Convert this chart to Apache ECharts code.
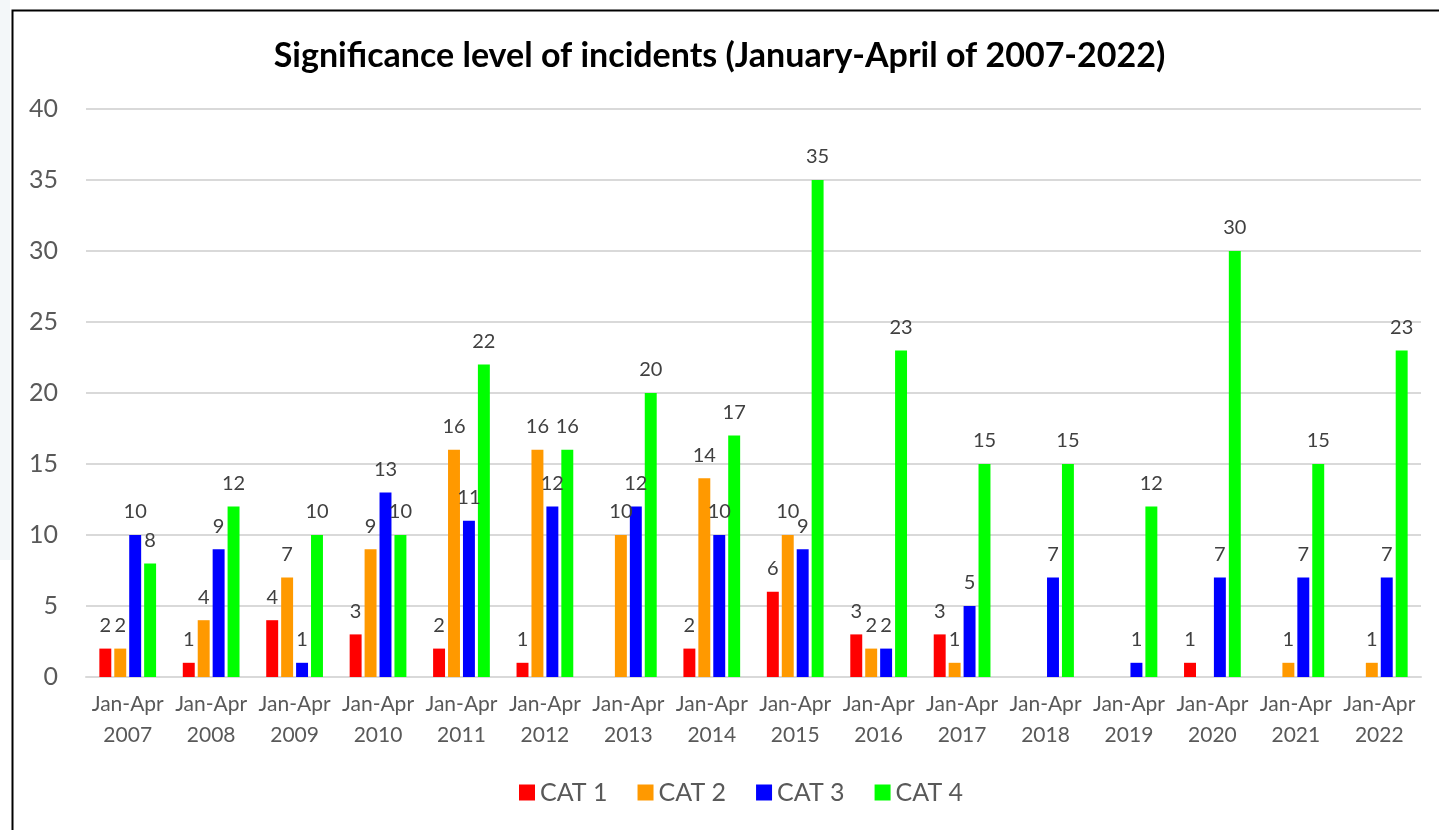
<!DOCTYPE html>
<html>
<head>
<meta charset="utf-8">
<script src="https://cdn.jsdelivr.net/npm/echarts@6/dist/echarts.min.js"></script>
<style>
  html, body { margin: 0; padding: 0; background: #fff; }
  #chart { width: 1439px; height: 830px; }
</style>
</head>
<body>
<div id="chart"></div>
<script>
const years = ['2007', '2008', '2009', '2010', '2011', '2012', '2013', '2014',
  '2015', '2016', '2017', '2018', '2019', '2020', '2021', '2022'];
const categories = years.map(y => 'Jan-Apr\n' + y);

// 0 = no incidents (no bar, no label in the original)
const cat1 = [2, 1, 4, 3, 2, 1, 0, 2, 6, 3, 3, 0, 0, 1, 0, 0];
const cat2 = [2, 4, 7, 9, 16, 16, 10, 14, 10, 2, 1, 0, 0, 0, 1, 1];
const cat3 = [10, 9, 1, 13, 11, 12, 12, 10, 9, 2, 5, 7, 1, 7, 7, 7];
const cat4 = [8, 12, 10, 10, 22, 16, 20, 17, 35, 23, 15, 15, 12, 30, 15, 23];

const seriesNames = ['CAT 1', 'CAT 2', 'CAT 3', 'CAT 4'];
const seriesColors = ['#ff0000', '#ff9900', '#0000ff', '#00ff00'];

const font = 'Lato, "Open Sans", sans-serif';

const chart = echarts.init(document.getElementById('chart'));

const makeSeries = (name, data, color) => ({
  name: name,
  type: 'bar',
  data: data,
  barGap: '25%',
  barCategoryGap: '32%',
  itemStyle: { color: color },
  label: {
    show: true,
    position: 'top',
    distance: 13,
    color: '#404040',
    fontSize: 20,
    fontFamily: font,
    formatter: p => (p.value ? p.value : '')
  }
});

chart.setOption({
  backgroundColor: '#fff',
  animation: false,
  title: {
    text: 'Significance level of incidents (January-April of 2007-2022)',
    left: 'center',
    top: 34,
    textStyle: { fontSize: 34, fontWeight: 'bold', color: '#000', fontFamily: font }
  },
  legend: {
    bottom: 20,
    left: 514,
    itemWidth: 16,
    itemHeight: 16,
    itemGap: 30,
    icon: 'rect',
    textStyle: { fontSize: 25, color: '#595959', fontFamily: font }
  },
  grid: { left: 86, right: 18, top: 109, bottom: 153 },
  xAxis: {
    type: 'category',
    data: categories,
    axisLine: { show: true, lineStyle: { color: '#d9d9d9', width: 2 } },
    axisTick: { show: false },
    axisLabel: {
      margin: 12,
      fontSize: 21,
      lineHeight: 31,
      color: '#595959',
      fontFamily: font,
      interval: 0
    }
  },
  yAxis: {
    type: 'value',
    min: 0,
    max: 40,
    interval: 5,
    axisLine: { show: false },
    axisTick: { show: false },
    axisLabel: { margin: 28, fontSize: 25, color: '#595959', fontFamily: font },
    splitLine: { lineStyle: { color: '#d9d9d9', width: 2 } }
  },
  graphic: [
    {
      type: 'rect',
      left: 0,
      top: 0,
      shape: { width: 10, height: 560 },
      style: { fill: '#f3f7f9' },
      silent: true
    },
    {
      type: 'rect',
      left: 10,
      top: 8,
      shape: { width: 1440, height: 840 },
      style: { fill: 'none', stroke: '#000', lineWidth: 2 },
      silent: true
    }
  ],
  series: [
    makeSeries(seriesNames[0], cat1, seriesColors[0]),
    makeSeries(seriesNames[1], cat2, seriesColors[1]),
    makeSeries(seriesNames[2], cat3, seriesColors[2]),
    makeSeries(seriesNames[3], cat4, seriesColors[3])
  ]
});
</script>
</body>
</html>
